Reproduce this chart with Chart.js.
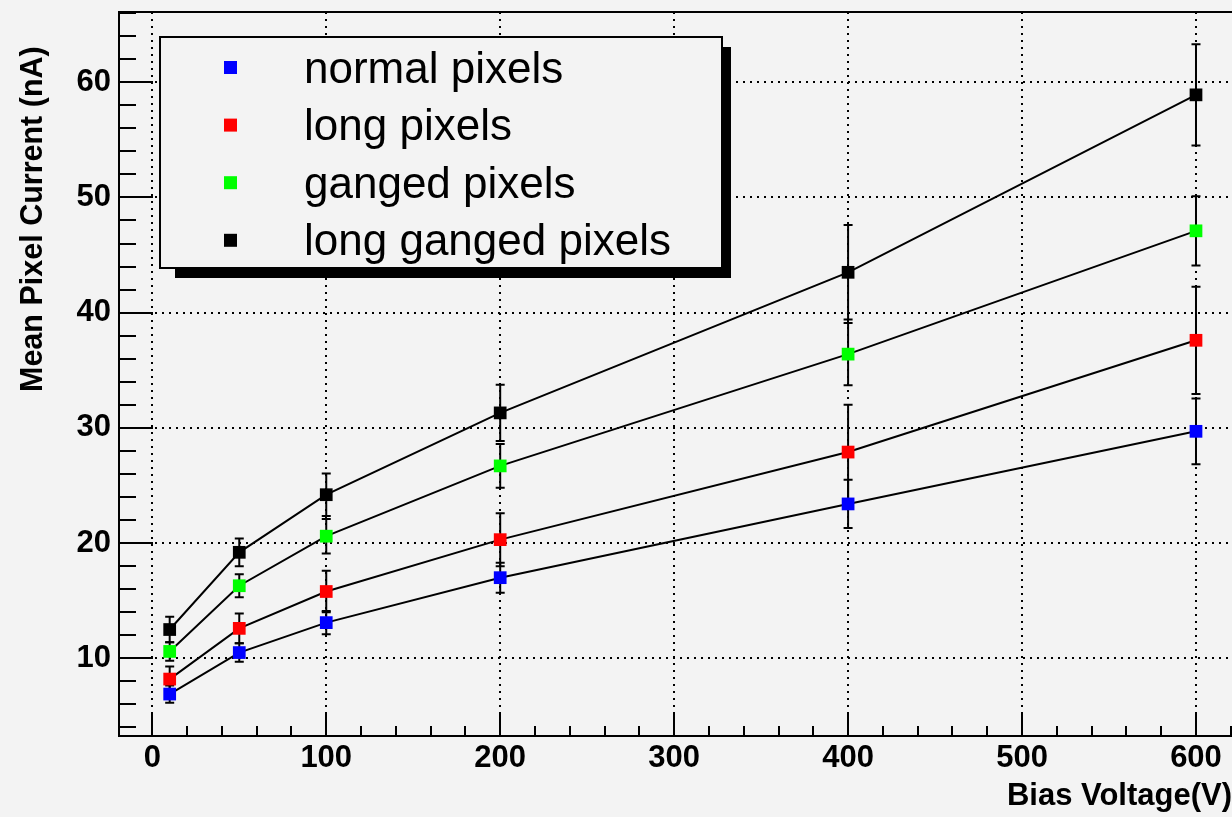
<!DOCTYPE html>
<html>
<head>
<meta charset="utf-8">
<script src="https://cdn.jsdelivr.net/npm/chart.js@4.4.0/dist/chart.umd.min.js"></script>
<style>
  html, body { margin: 0; padding: 0; background: #f3f3f3; }
  canvas { display: block; }
</style>
</head>
<body>
<canvas id="chart" width="1232" height="817"></canvas>
<script>
// data
const voltage = [10, 50, 100, 200, 400, 600];

const normalPixels = [6.9, 10.5, 13.1, 17.0, 23.4, 29.7];
const normalErr = [0.75, 0.8, 1.0, 1.3, 2.1, 2.85];

const longPixels = [8.2, 12.6, 15.8, 20.3, 27.9, 37.6];
const longErr = [1.1, 1.3, 1.8, 2.3, 4.1, 4.65];

const gangedPixels = [10.6, 16.3, 20.6, 26.7, 36.4, 47.1];
const gangedErr = [0.8, 1.0, 1.5, 1.9, 2.7, 3.0];

const longGangedPixels = [12.5, 19.2, 24.2, 31.3, 43.5, 58.9];
const longGangedErr = [1.1, 1.2, 1.85, 2.45, 4.1, 4.4];

const xTicks = [0, 100, 200, 300, 400, 500, 600];
const yTicks = [10, 20, 30, 40, 50, 60];

const FONT = "'Liberation Sans', Arial, Helvetica, sans-serif";

function pts(ys) {
    return voltage.map((v, i) => ({x: v, y: ys[i]}));
}

function series(label, ys, errs, color) {
    return {
        label: label,
        data: pts(ys),
        errors: errs,
        borderColor: '#000',
        borderWidth: 2,
        pointStyle: 'rect',
        pointRadius: 9,
        pointBackgroundColor: color,
        pointBorderWidth: 0,
        markerColor: color,
        tension: 0,
        fill: false
    };
}

// no extra room for the edge labels, the frame is fixed
function noPadding(s) {
    s.paddingTop = 0;
    s.paddingBottom = 0;
    s.paddingLeft = 0;
    s.paddingRight = 0;
}

// vertical error bars, drawn under the lines and markers
const errorBars = {
    id: 'errorBars',
    beforeDatasetsDraw(chart) {
        const ctx = chart.ctx;
        const ys = chart.scales.y;
        ctx.save();
        ctx.strokeStyle = '#000';
        ctx.lineWidth = 2;
        chart.data.datasets.forEach((ds, di) => {
            const meta = chart.getDatasetMeta(di);
            meta.data.forEach((p, i) => {
                const v = ds.data[i].y, e = ds.errors[i];
                const top = ys.getPixelForValue(v + e);
                const bot = ys.getPixelForValue(v - e);
                ctx.beginPath();
                ctx.moveTo(p.x, top); ctx.lineTo(p.x, bot);
                ctx.moveTo(p.x - 4.5, top); ctx.lineTo(p.x + 4.5, top);
                ctx.moveTo(p.x - 4.5, bot); ctx.lineTo(p.x + 4.5, bot);
                ctx.stroke();
            });
        });
        ctx.restore();
    }
};

// ROOT style frame: inward ticks, top frame line, y title, boxed legend
const rootFrame = {
    id: 'rootFrame',
    afterDraw(chart) {
        const ctx = chart.ctx;
        const a = chart.chartArea;
        const xs = chart.scales.x, ys = chart.scales.y;
        ctx.save();
        ctx.strokeStyle = '#000';
        ctx.lineWidth = 2;
        ctx.beginPath();
        // top frame
        ctx.moveTo(a.left, a.top); ctx.lineTo(a.right, a.top);
        // x ticks
        for (let v = 0; v <= 640; v += 20) {
            const px = Math.round(xs.getPixelForValue(v));
            if (px < a.left || px > a.right) continue;
            const len = v % 100 === 0 ? 23 : 10;
            ctx.moveTo(px, a.bottom); ctx.lineTo(px, a.bottom - len);
        }
        // y ticks
        for (let v = 4; v <= 66; v += 2) {
            const py = Math.round(ys.getPixelForValue(v));
            if (py < a.top || py > a.bottom) continue;
            const len = v % 10 === 0 ? 34 : 17;
            ctx.moveTo(a.left, py); ctx.lineTo(a.left + len, py);
        }
        ctx.stroke();

        // y axis title
        ctx.fillStyle = '#000';
        ctx.font = 'bold 30.5px ' + FONT;
        ctx.textAlign = 'left';
        ctx.textBaseline = 'alphabetic';
        ctx.translate(42, 392);
        ctx.rotate(-Math.PI / 2);
        ctx.fillText('Mean Pixel Current (nA)', 0, 0);
        ctx.restore();

        // legend
        ctx.save();
        ctx.fillStyle = '#000';
        ctx.fillRect(175, 47, 556, 231);
        ctx.fillStyle = '#f3f3f3';
        ctx.fillRect(160, 37, 562, 231);
        ctx.strokeStyle = '#000';
        ctx.lineWidth = 2;
        ctx.strokeRect(160, 37, 562, 231);
        ctx.font = '44px ' + FONT;
        ctx.textAlign = 'left';
        ctx.textBaseline = 'alphabetic';
        chart.data.datasets.forEach((ds, i) => {
            const cy = 67.5 + i * 57.6;
            ctx.fillStyle = ds.markerColor;
            ctx.fillRect(224, cy - 6.5, 13, 13);
            ctx.fillStyle = '#000';
            ctx.fillText(ds.label, 304, cy + 15);
        });
        ctx.restore();
    }
};

new Chart(document.querySelector('#chart'), {
    type: 'line',
    data: {
        datasets: [
            series('normal pixels', normalPixels, normalErr, '#0000ff'),
            series('long pixels', longPixels, longErr, '#ff0000'),
            series('ganged pixels', gangedPixels, gangedErr, '#00ff00'),
            series('long ganged pixels', longGangedPixels, longGangedErr, '#000000')
        ]
    },
    options: {
        responsive: false,
        animation: false,
        layout: { autoPadding: false, padding: { top: 12, right: 0, left: 0, bottom: 0 } },
        plugins: { legend: { display: false }, tooltip: { enabled: false } },
        scales: {
            x: {
                type: 'linear',
                min: -19.14,
                max: 620.7,
                afterBuildTicks: s => { s.ticks = xTicks.map(v => ({value: v})); },
                afterFit: s => { s.height = 81; noPadding(s); },
                grid: { color: '#000', lineWidth: 2, drawTicks: false },
                border: { display: true, color: '#000', width: 2, dash: [2, 5] },
                ticks: {
                    color: '#000',
                    padding: 4,
                    maxRotation: 0,
                    font: { family: FONT, size: 31, weight: 'bold' }
                },
                title: {
                    display: true,
                    text: 'Bias Voltage(V)',
                    align: 'end',
                    color: '#000',
                    padding: { top: 0, bottom: 2 },
                    font: { family: FONT, size: 31, weight: 'bold' }
                }
            },
            y: {
                type: 'linear',
                min: 3.26,
                max: 66.09,
                afterBuildTicks: s => { s.ticks = yTicks.map(v => ({value: v})); },
                afterFit: s => { s.width = 119; noPadding(s); },
                grid: { color: '#000', lineWidth: 2, drawTicks: false },
                border: { display: true, color: '#000', width: 2, dash: [2, 5] },
                ticks: {
                    color: '#000',
                    padding: 8,
                    font: { family: FONT, size: 31, weight: 'bold' }
                }
            }
        }
    },
    plugins: [errorBars, rootFrame]
});
</script>
</body>
</html>
